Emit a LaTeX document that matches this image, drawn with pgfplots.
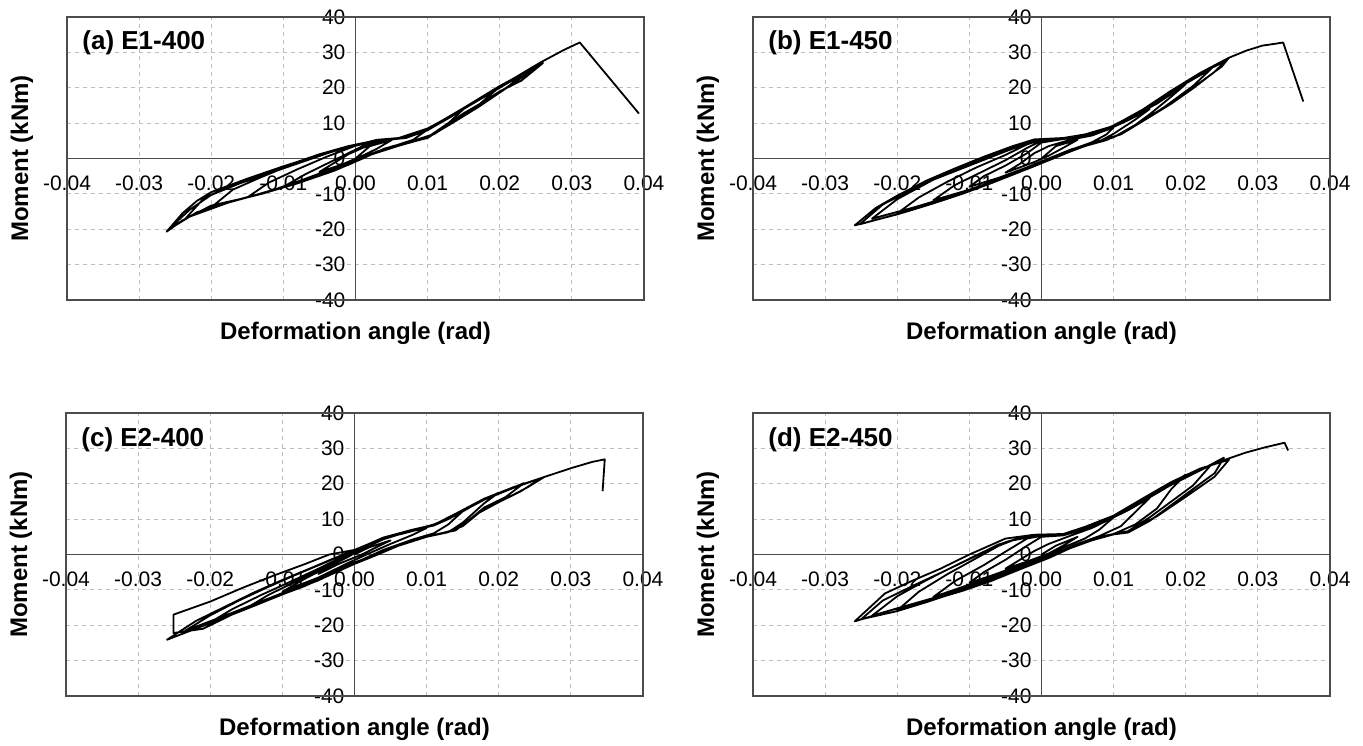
\documentclass[border=0pt]{standalone}
\usepackage{fontspec}
\setmainfont{Liberation Sans}
\usepackage{pgfplots}
\pgfplotsset{compat=1.18}
\tikzset{ttl/.style={anchor=west, inner sep=0pt, font=\fontsize{13}{15}\selectfont\bfseries}}
\pgfplotsset{
  panel/.style={
    anchor=south west,
    width=288.5pt, height=141.5pt, scale only axis,
    xmin=-0.04, xmax=0.04, ymin=-40, ymax=40,
    axis lines=middle,
    axis line style={-, draw=black!70, line width=0.6pt},
    every inner x axis line/.append style={-},
    every inner y axis line/.append style={-},
    hide obscured x ticks=false, hide obscured y ticks=false,
    scaled x ticks=false, scaled y ticks=false,
    xtick={-0.04,-0.03,-0.02,-0.01,0,0.01,0.02,0.03,0.04},
    xticklabels={-0.04,-0.03,-0.02,-0.01,0.00,0.01,0.02,0.03,0.04},
    ytick={-40,-30,-20,-10,0,10,20,30,40},
    yticklabels={-40,-30,-20,-10,0,10,20,30,40},
    major tick length=0pt,
    grid=major,
    grid style={dash pattern=on 2pt off 2pt, black!25, line width=0.4pt},
    tick label style={font=\fontsize{10.5}{12}\selectfont, text=black},
    xticklabel style={anchor=center, yshift=-12.5pt},
    yticklabel style={anchor=east, xshift=-1.5pt},
    xlabel={Deformation angle (rad)},
    ylabel={Moment (kNm)},
    xlabel style={at={(axis description cs:0.5,-0.1166)}, anchor=center, font=\fontsize{12}{14}\selectfont\bfseries},
    ylabel style={at={(axis description cs:-0.078,0.5)}, anchor=center, rotate=90, font=\fontsize{12}{14}\selectfont\bfseries},
    clip=false,
    after end axis/.code={\draw[black!70, line width=0.7pt] (rel axis cs:0,0) rectangle (rel axis cs:1,1);},
  },
  curve/.style={black, line width=0.9pt, line join=round},
}
\begin{document}
\begin{tikzpicture}
\useasboundingbox (0,0) rectangle (681.5pt,372.5pt);
% ---------------- (a) E1-400 ----------------
\begin{axis}[panel, at={(33.5pt,222.5pt)}]
\addplot[curve] coordinates {
(0,0)(0.002,3.5)(0.005,5.2)(0.003,2.8)(0.001,0.8)(-0.002,-1.8)(-0.005,-3.8)(-0.003,-1.3)(-0.001,1.2)(0.001,3)
(0.004,5)(0.007,6)(0.010,8.2)(0.008,5.3)(0.005,3.3)(0.002,1)(-0.001,-1.8)(-0.005,-4.8)(-0.010,-8)(-0.007,-4.5)(-0.004,-1.5)(-0.001,1.5)(0.001,3.5)
(0.004,5.2)(0.007,5.8)(0.010,8)(0.013,11.5)(0.015,14)(0.013,10.2)(0.010,6)(0.006,3.8)(0.003,2)(0,-0.8)(-0.005,-4.5)(-0.010,-8)(-0.015,-11)(-0.012,-6.8)(-0.008,-3)(-0.004,0.5)(0,3.6)
(0.003,5.1)(0.006,5.6)(0.010,8.2)(0.015,14)(0.020,20.3)(0.017,15)(0.013,9.8)(0.010,6)(0.005,3.4)(0.002,1.2)(-0.002,-2)(-0.006,-5)(-0.010,-8.1)(-0.015,-11)(-0.020,-13.8)(-0.017,-8.8)(-0.013,-5.2)(-0.009,-1.9)(-0.005,0.8)(-0.001,3.3)
(0.003,5.1)(0.006,5.7)(0.010,8.4)(0.015,14.2)(0.020,20.4)(0.0235,24.5)(0.021,20)(0.017,14.5)(0.013,9.5)(0.010,5.9)(0.006,3.6)(0.002,1)(-0.002,-2.2)(-0.007,-5.8)(-0.012,-9.3)(-0.017,-12)(-0.0235,-16.8)(-0.021,-11.2)(-0.017,-7.5)(-0.013,-4.5)(-0.009,-1.6)(-0.005,1.2)(-0.001,3.5)
(0.003,5.2)(0.006,5.7)(0.010,8.3)(0.015,14.3)(0.020,20.5)(0.023,23.8)(0.026,27)(0.023,22)(0.020,19)(0.015,12.4)(0.010,5.8)(0.005,3.3)(0.002,1.2)(-0.002,-2.5)(-0.006,-5)(-0.010,-8.1)(-0.015,-11)(-0.020,-13.3)(-0.024,-17.5)(-0.0262,-20.7)(-0.024,-15.5)(-0.022,-12)(-0.020,-9.5)(-0.015,-5.7)(-0.010,-2.2)(-0.005,1)(0,3.8)
(0.003,5.3)(0.006,5.8)(0.010,8.5)(0.015,14)(0.020,20)(0.0255,26.6)(0.023,22.8)(0.019,17.5)(0.015,12.8)(0.011,7)(0.008,5)(0.004,2.8)(0.001,0)(-0.003,-3.5)(-0.008,-7)(-0.013,-10)(-0.018,-12.5)(-0.022,-15.2)(-0.026,-20.2)(-0.023,-14.5)(-0.020,-10.3)(-0.016,-7)(-0.011,-3.5)(-0.006,0)(-0.002,2.8)(0,3.8)
(0.003,5.2)(0.006,5.6)(0.010,8.3)(0.015,14.2)(0.020,20.3)(0.0256,27.1)(0.029,30.8)(0.0311,32.8)(0.0393,12.7)
};
\node[ttl] at (axis description cs:0.026,0.908) {(a) E1-400};
\end{axis}
% ---------------- (b) E1-450 ----------------
\begin{axis}[panel, at={(376.5pt,222.5pt)}]
\addplot[curve] coordinates {
(0,0)(0.002,3.5)(0.005,5.3)(0.003,3)(0.001,0.8)(-0.001,-1)(-0.003,-2.5)(-0.005,-4)(-0.003,-1.5)(-0.001,1.5)(0.001,3.5)
(0.004,5.3)(0.007,6.5)(0.010,8.8)(0.009,6.8)(0.007,4.6)(0.004,2.4)(0.001,0)(-0.002,-2.5)(-0.006,-5.5)(-0.010,-8)(-0.008,-5)(-0.005,-2)(-0.002,1.5)(0,4.5)
(0.003,5.5)(0.006,6.2)(0.009,8)(0.012,10.8)(0.015,14)(0.013,11)(0.010,7)(0.008,4.8)(0.005,2.8)(0.002,0.3)(-0.002,-3)(-0.006,-6)(-0.010,-8.8)(-0.015,-11.8)(-0.012,-7.5)(-0.008,-3.5)(-0.005,-0.5)(-0.002,3)(0,5)
(0.003,5.6)(0.006,6.3)(0.009,8.2)(0.012,11.2)(0.016,15.5)(0.020,21)(0.018,17.5)(0.015,12.5)(0.012,8)(0.009,5.2)(0.006,3.5)(0.003,1.2)(0,-1.2)(-0.004,-4.5)(-0.008,-7.5)(-0.012,-10.2)(-0.016,-12.8)(-0.020,-15.5)(-0.017,-11)(-0.013,-6.5)(-0.009,-2.5)(-0.005,1)(-0.002,4)(0,5.3)
(0.003,5.5)(0.006,6.4)(0.010,9)(0.015,14.5)(0.020,21.2)(0.0235,25.3)(0.021,20.5)(0.017,14.5)(0.013,9.3)(0.010,6)(0.006,3.6)(0.002,0.6)(-0.003,-3.5)(-0.008,-7.5)(-0.013,-11)(-0.018,-14)(-0.0235,-17)(-0.020,-11.5)(-0.015,-6)(-0.010,-2)(-0.005,2)(-0.002,4.3)(0,5.3)
(0.003,5.6)(0.006,6.5)(0.009,8.3)(0.012,11.5)(0.016,16)(0.020,21.5)(0.023,25)(0.026,28.5)(0.025,26)(0.022,21.5)(0.019,17)(0.016,13.2)(0.013,9.5)(0.010,6)(0.008,4.8)(0.005,3)(0.002,0.5)(0,-1.2)(-0.004,-4.5)(-0.008,-7.7)(-0.012,-10.6)(-0.016,-13.3)(-0.020,-15.8)(-0.0259,-18.9)(-0.023,-14)(-0.020,-10.5)(-0.016,-6.3)(-0.012,-2.8)(-0.008,0.5)(-0.004,3.5)(-0.001,5.4)
(0.003,5.8)(0.006,6.8)(0.010,9.2)(0.014,13.5)(0.018,19)(0.022,24)(0.0255,27.5)(0.024,24.5)(0.021,19.8)(0.018,15.5)(0.014,10.5)(0.011,6.8)(0.008,5)(0.004,2.5)(0.001,0)(-0.003,-3.8)(-0.007,-7)(-0.011,-10)(-0.015,-12.7)(-0.019,-15.2)(-0.0252,-18.6)(-0.022,-13)(-0.018,-8.8)(-0.014,-5)(-0.010,-1.8)(-0.006,1.5)(-0.002,4.8)(0,5.5)
(0.004,5.8)(0.007,7)(0.010,9.3)(0.014,13.8)(0.018,19.2)(0.022,24.2)(0.026,28.5)(0.0284,30.5)(0.0306,31.9)(0.0326,32.5)(0.0335,32.8)(0.0363,16.1)
};
\node[ttl] at (axis description cs:0.026,0.908) {(b) E1-450};
\end{axis}
% ---------------- (c) E2-400 ----------------
\begin{axis}[panel, at={(33pt,24.5pt)}]
\addplot[curve] coordinates {
(0,0)(0.002,2)(0.005,4)(0.003,2)(0.001,0)(-0.002,-2.5)(-0.005,-5.5)(-0.003,-3)(-0.001,-0.5)(0.001,1.5)
(0.004,4.3)(0.007,6.2)(0.010,7.5)(0.008,5.5)(0.005,3)(0.002,0.3)(-0.001,-2.5)(-0.005,-6.5)(-0.010,-10.5)(-0.007,-7)(-0.004,-3.8)(-0.001,-0.8)(0.001,1.5)
(0.004,4.5)(0.008,6.8)(0.011,8.2)(0.013,10)(0.015,12.2)(0.013,8.5)(0.011,6)(0.008,4.2)(0.004,1.3)(0.001,-1.5)(-0.003,-5)(-0.007,-8.8)(-0.011,-12)(-0.015,-15.2)(-0.012,-11.5)(-0.008,-7.5)(-0.004,-3.6)(-0.001,-0.5)(0.001,1.8)
(0.004,4.6)(0.008,6.8)(0.011,8.5)(0.014,11)(0.017,14.5)(0.020,17.5)(0.018,14.5)(0.015,9)(0.013,6.3)(0.010,5)(0.006,2.5)(0.003,0)(-0.001,-3)(-0.005,-7)(-0.010,-11)(-0.015,-15)(-0.020,-19.2)(-0.017,-15.5)(-0.013,-11.5)(-0.009,-7.8)(-0.005,-4)(-0.002,-1)(0.001,1.5)
(0.004,4.5)(0.008,6.7)(0.011,8.3)(0.014,11.2)(0.018,15.5)(0.0235,20.2)(0.021,16.3)(0.018,13.3)(0.015,8.3)(0.013,6.4)(0.010,5)(0.006,2.4)(0.003,-0.2)(-0.002,-4.3)(-0.007,-8.5)(-0.012,-12.5)(-0.017,-16.5)(-0.0235,-21.6)(-0.020,-17.2)(-0.016,-13)(-0.012,-9.2)(-0.008,-5.6)(-0.004,-2.2)(-0.001,0.5)(0.001,1.5)
(0.004,4.5)(0.008,6.6)(0.011,8.3)(0.014,11.2)(0.018,15.5)(0.022,18.8)(0.0263,21.9)(0.024,19)(0.021,15.8)(0.018,13)(0.015,8)(0.013,6.5)(0.010,5)(0.006,2.5)(0.003,0)(-0.001,-3.5)(-0.005,-7.3)(-0.010,-11.3)(-0.015,-15.4)(-0.020,-19.4)(-0.026,-24.1)(-0.022,-18.8)(-0.018,-14.8)(-0.014,-10.8)(-0.010,-7.2)(-0.006,-3.8)(-0.003,-1.2)(0,1.2)
(0.004,4.8)(0.008,7)(0.011,8.4)(0.014,11.5)(0.018,15.8)(0.022,19)(0.026,21.7)(0.023,17.8)(0.020,14.8)(0.017,11.5)(0.014,6.8)(0.012,6)(0.009,4.5)(0.005,1.8)(0.002,-0.8)(-0.002,-4.5)(-0.007,-9)(-0.012,-12.8)(-0.017,-17)(-0.021,-21)(-0.0251,-22.2)(-0.0251,-17)(-0.020,-13.3)(-0.0155,-9.4)(-0.011,-5.8)(-0.007,-2.8)(-0.0035,0)(0,1.3)
(0.004,4.7)(0.008,6.9)(0.011,8.4)(0.014,11.5)(0.018,15.8)(0.022,19)(0.0263,21.9)(0.030,24.4)(0.033,26.2)(0.0347,26.9)(0.0344,17.9)
};
\node[ttl] at (axis description cs:0.026,0.905) {(c) E2-400};
\end{axis}
% ---------------- (d) E2-450 ----------------
\begin{axis}[panel, at={(376.5pt,24.5pt)}]
\addplot[curve] coordinates {
(0,0)(0.002,2.5)(0.005,5)(0.003,2.5)(0.001,0.3)(-0.002,-2)(-0.005,-4)(-0.003,-1.5)(-0.001,1)(0.001,3)
(0.004,5.3)(0.007,7.5)(0.010,10.5)(0.008,7)(0.006,4.5)(0.003,2)(0,-0.8)(-0.004,-3.8)(-0.007,-6)(-0.010,-8)(-0.008,-5)(-0.005,-1.5)(-0.002,2.5)(0,5)
(0.003,5.4)(0.006,7.2)(0.009,9.5)(0.012,12.5)(0.015,16)(0.013,12)(0.011,8)(0.008,5.2)(0.005,3)(0.002,0.5)(-0.002,-2.7)(-0.006,-5.8)(-0.010,-8.5)(-0.015,-12)(-0.012,-7.5)(-0.008,-3)(-0.005,0.8)(-0.002,4.5)(0,5.3)
(0.003,5.5)(0.006,7.4)(0.010,10.5)(0.014,15)(0.017,18.5)(0.020,22.6)(0.018,18.5)(0.016,13)(0.013,8.5)(0.010,5.8)(0.007,4.2)(0.004,2)(0.001,-0.8)(-0.003,-3.8)(-0.007,-7)(-0.011,-9.8)(-0.015,-12.5)(-0.020,-15.8)(-0.017,-10.5)(-0.013,-5.5)(-0.009,-1)(-0.005,3.5)(-0.002,5.2)(0,5.5)
(0.003,5.6)(0.006,7.5)(0.010,10.7)(0.014,15.2)(0.018,19.7)(0.0235,25.3)(0.021,19.5)(0.018,15)(0.015,10.5)(0.012,6.6)(0.009,5.4)(0.006,3.6)(0.003,1)(-0.001,-2)(-0.005,-5.2)(-0.010,-9)(-0.015,-12.3)(-0.020,-15.2)(-0.0235,-17.3)(-0.020,-11.8)(-0.016,-7.3)(-0.012,-3.2)(-0.008,0.8)(-0.004,4)(0,5.5)
(0.003,5.6)(0.006,7.5)(0.010,10.8)(0.014,15.3)(0.018,19.8)(0.022,23.8)(0.0253,27.4)(0.024,23)(0.021,18.5)(0.018,14)(0.015,9.5)(0.012,6.2)(0.010,5.7)(0.007,4)(0.004,1.8)(0.001,-1)(-0.003,-4.2)(-0.007,-7.5)(-0.011,-10.3)(-0.0138,-12)(-0.017,-13.8)(-0.021,-15.8)(-0.0259,-18.9)(-0.0217,-11)(-0.018,-7.5)(-0.014,-4)(-0.010,0)(-0.005,4.5)(-0.001,5.6)
(0.003,5.8)(0.006,7.8)(0.010,11)(0.014,15.8)(0.018,20.5)(0.022,24.3)(0.026,26.8)(0.024,22)(0.020,16.3)(0.016,10.8)(0.012,6.5)(0.009,5.3)(0.006,3.5)(0.003,1)(0,-1.6)(-0.004,-4.8)(-0.008,-7.8)(-0.012,-10.8)(-0.016,-13.5)(-0.020,-16)(-0.025,-18.3)(-0.022,-13)(-0.018,-9)(-0.014,-5.2)(-0.010,-1.3)(-0.006,2.8)(-0.002,5.3)(0,5.5)
(0.003,5.8)(0.006,7.8)(0.010,11)(0.014,15.6)(0.018,20.2)(0.022,24)(0.0256,26.9)(0.0283,28.8)(0.031,30.3)(0.0337,31.6)(0.0342,29.4)
};
\node[ttl] at (axis description cs:0.026,0.905) {(d) E2-450};
\end{axis}
\end{tikzpicture}
\end{document}
